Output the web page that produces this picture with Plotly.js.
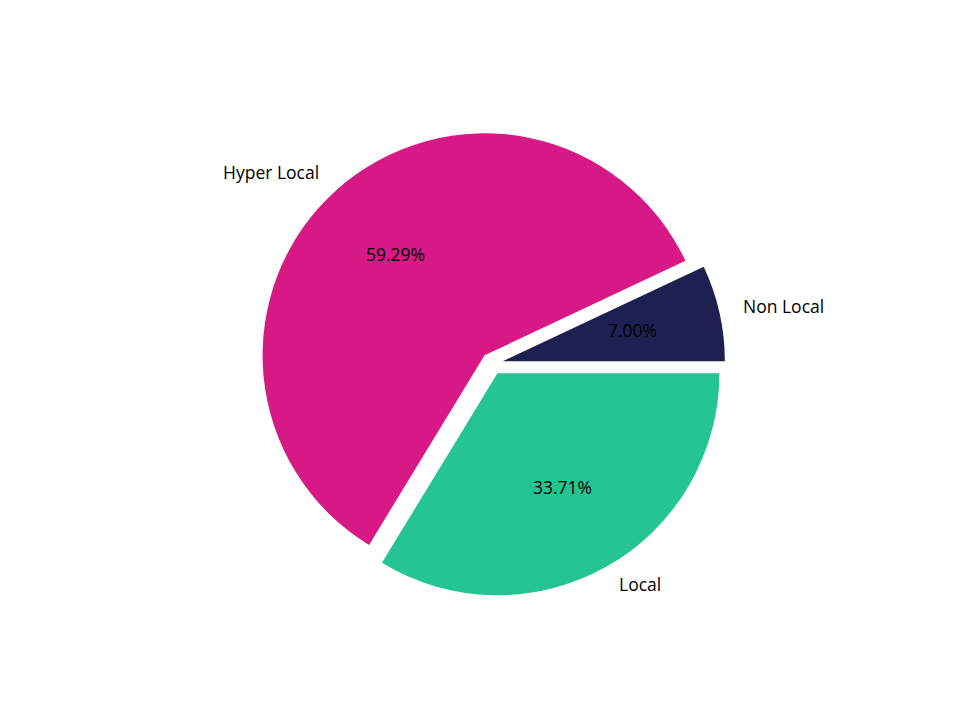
<!DOCTYPE html>
<html>
<head>
<meta charset="utf-8">
<script src="https://cdn.plot.ly/plotly-3.0.1.min.js"></script>
<style>
  html, body { margin: 0; padding: 0; background: #fff; }
  #chart { width: 960px; height: 720px; }
</style>
</head>
<body>
<div id="chart"></div>
<script>
// data
const labels = ['Non Local', 'Hyper Local', 'Local'];
const shares = [7.00, 59.29, 33.71];
const colors = ['#1f2052', '#d71986', '#24c493'];
const pullFrac = [0.05, 0.05, 0.05];

// geometry (pixels) matching the original figure
const W = 960, H = 720;
const cx = 492, cy = 363.6;   // pie centre, from top-left
const R = 222;                 // slice radius
const font = { family: 'Open Sans, Noto Sans, DejaVu Sans, sans-serif', size: 17.5, color: '#000' };

const total = shares.reduce((a, b) => a + b, 0);

// domain large enough that plotly's pulled pie ends up with radius R
const half = R * (1 + Math.max(...pullFrac));
const domain = {
  x: [(cx - half) / W, (cx + half) / W],
  y: [(H - cy - half) / H, (H - cy + half) / H],
};

// plotly's counterclockwise pie ends the first slice at `rotation`,
// so shift it so the first slice starts at 3 o'clock
const trace = {
  type: 'pie',
  labels: labels,
  values: shares,
  marker: { colors: colors, line: { width: 0 } },
  pull: pullFrac,
  sort: false,
  direction: 'counterclockwise',
  rotation: 90 - 360 * shares[0] / total,
  textinfo: 'none',
  hoverinfo: 'label+percent',
  showlegend: false,
  domain: domain,
};

// labels and percentages placed the way matplotlib does: 0.6R and 1.1R along the mid-angle
const annotations = [];
let start = 0;
shares.forEach((v, i) => {
  const sweep = 360 * v / total;
  const mid = (start + sweep / 2) * Math.PI / 180;
  start += sweep;
  const ox = cx + pullFrac[i] * R * Math.cos(mid);
  const oy = cy - pullFrac[i] * R * Math.sin(mid);
  const px = (x) => x / W;
  const py = (y) => (H - y) / H;
  annotations.push({
    xref: 'paper', yref: 'paper',
    x: px(ox + 0.6 * R * Math.cos(mid)), y: py(oy - 0.6 * R * Math.sin(mid)),
    text: (v / total * 100).toFixed(2) + '%',
    showarrow: false, xanchor: 'center', yanchor: 'middle', yshift: 2, font: font,
  });
  const lx = ox + 1.1 * R * Math.cos(mid);
  annotations.push({
    xref: 'paper', yref: 'paper',
    x: px(lx), y: py(oy - 1.1 * R * Math.sin(mid)),
    text: labels[i],
    showarrow: false, xanchor: Math.cos(mid) > 0 ? 'left' : 'right', yanchor: 'middle', yshift: 2, font: font,
  });
});

const layout = {
  width: W, height: H,
  margin: { l: 0, r: 0, t: 0, b: 0 },
  paper_bgcolor: '#fff',
  plot_bgcolor: '#fff',
  annotations: annotations,
};

Plotly.newPlot('chart', [trace], layout, { displayModeBar: false, staticPlot: true });
</script>
</body>
</html>
